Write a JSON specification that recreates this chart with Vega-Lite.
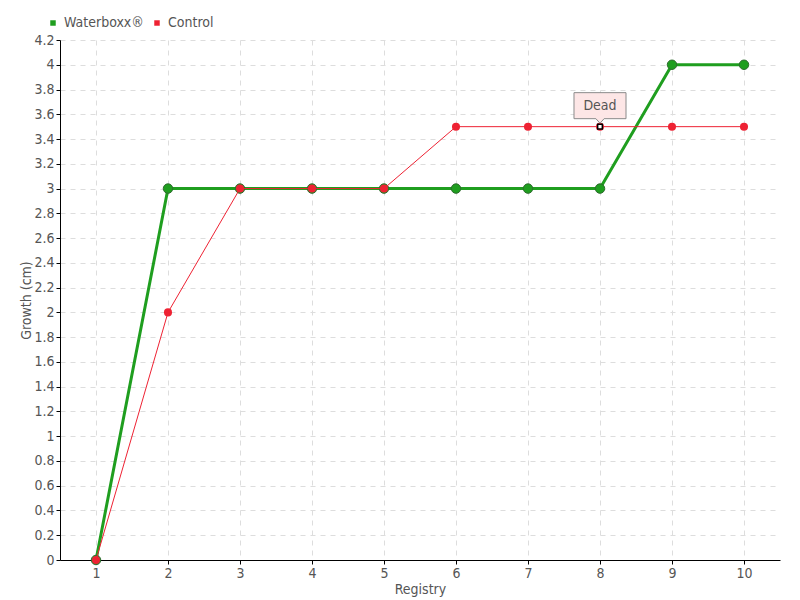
{
  "$schema": "https://vega.github.io/schema/vega-lite/v6.json",
  "width": 720,
  "height": 520,
  "autosize": "none",
  "padding": {"left": 60, "top": 40, "right": 20, "bottom": 40},
  "background": "white",
  "config": {
    "font": "DejaVu Sans Condensed, Liberation Sans Narrow, sans-serif",
    "view": {"stroke": null}
  },
  "data": {
    "values": [
      {"registry": 1, "growth": 0, "series": "Waterboxx®", "dead": false},
      {"registry": 2, "growth": 3, "series": "Waterboxx®", "dead": false},
      {"registry": 3, "growth": 3, "series": "Waterboxx®", "dead": false},
      {"registry": 4, "growth": 3, "series": "Waterboxx®", "dead": false},
      {"registry": 5, "growth": 3, "series": "Waterboxx®", "dead": false},
      {"registry": 6, "growth": 3, "series": "Waterboxx®", "dead": false},
      {"registry": 7, "growth": 3, "series": "Waterboxx®", "dead": false},
      {"registry": 8, "growth": 3, "series": "Waterboxx®", "dead": false},
      {"registry": 9, "growth": 4, "series": "Waterboxx®", "dead": false},
      {"registry": 10, "growth": 4, "series": "Waterboxx®", "dead": false},
      {"registry": 1, "growth": 0, "series": "Control", "dead": false},
      {"registry": 2, "growth": 2, "series": "Control", "dead": false},
      {"registry": 3, "growth": 3, "series": "Control", "dead": false},
      {"registry": 4, "growth": 3, "series": "Control", "dead": false},
      {"registry": 5, "growth": 3, "series": "Control", "dead": false},
      {"registry": 6, "growth": 3.5, "series": "Control", "dead": false},
      {"registry": 7, "growth": 3.5, "series": "Control", "dead": false},
      {"registry": 8, "growth": 3.5, "series": "Control", "dead": true, "note": "Dead"},
      {"registry": 9, "growth": 3.5, "series": "Control", "dead": false},
      {"registry": 10, "growth": 3.5, "series": "Control", "dead": false}
    ]
  },
  "encoding": {
    "x": {
      "field": "registry", "type": "quantitative",
      "scale": {"domain": [0.5, 10.5], "nice": false, "zero": false},
      "axis": {
        "title": "Registry", "values": [1,2,3,4,5,6,7,8,9,10], "format": "d",
        "grid": true, "gridDash": [5, 5], "gridColor": "#dddddd",
        "domainColor": "#000000", "tickColor": "#000000", "tickSize": 4,
        "labelColor": "#555555", "labelFontSize": 14, "labelPadding": 2,
        "titleColor": "#555555", "titleFontSize": 14, "titleFontWeight": "normal", "titlePadding": 2
      }
    },
    "y": {
      "field": "growth", "type": "quantitative",
      "scale": {"domain": [0, 4.2], "nice": false},
      "axis": {
        "title": "Growth (cm)",
        "values": [0,0.2,0.4,0.6,0.8,1,1.2,1.4,1.6,1.8,2,2.2,2.4,2.6,2.8,3,3.2,3.4,3.6,3.8,4,4.2],
        "format": ".1~f", "labelOverlap": false,
        "grid": true, "gridDash": [5, 5], "gridColor": "#dddddd",
        "domainColor": "#000000", "tickColor": "#000000", "tickSize": 4,
        "labelColor": "#555555", "labelFontSize": 14, "labelPadding": 2,
        "titleColor": "#555555", "titleFontSize": 14, "titleFontWeight": "normal",
        "titleX": -34, "titleY": 260, "titleAngle": -90, "titleBaseline": "middle", "titleAlign": "center"
      }
    },
    "color": {
      "field": "series", "type": "nominal",
      "scale": {"domain": ["Waterboxx®", "Control"], "range": ["#1f9e1f", "#ee2233"]},
      "legend": {
        "title": null, "orient": "none", "legendX": -14, "legendY": -24, "direction": "horizontal",
        "symbolType": "square", "symbolSize": 30, "symbolStrokeWidth": 0,
        "labelFontSize": 14, "labelColor": "#555555", "columnPadding": 6, "symbolOffset": 0
      }
    }
  },
  "layer": [
    {
      "transform": [{"filter": "datum.series === 'Waterboxx®'"}],
      "mark": {"type": "line", "strokeWidth": 3}
    },
    {
      "transform": [{"filter": "datum.series === 'Waterboxx®'"}],
      "mark": {"type": "point", "filled": true, "size": 90, "stroke": "#2f6b2f", "strokeWidth": 1, "opacity": 1}
    },
    {
      "transform": [{"filter": "datum.series === 'Control'"}],
      "mark": {"type": "line", "strokeWidth": 1}
    },
    {
      "transform": [{"filter": "datum.series === 'Control'"}],
      "mark": {"type": "point", "filled": true, "size": 65, "opacity": 1}
    },
    {
      "transform": [{"filter": "datum.dead"}],
      "mark": {"type": "point", "shape": "square", "filled": true, "size": 22, "fill": "white", "stroke": "#000000", "strokeWidth": 1.5, "opacity": 1}
    },
    {
      "transform": [{"filter": "datum.dead"}],
      "mark": {
        "type": "point", "filled": true, "size": 4624,
        "shape": "M-0.765,-1 L0.765,-1 L0.765,-0.235 L0.12,-0.235 L0,-0.1 L-0.12,-0.235 L-0.765,-0.235 Z",
        "fill": "#fde6e6", "stroke": "#8a8a8a", "strokeWidth": 1, "opacity": 1
      }
    },
    {
      "transform": [{"filter": "datum.dead"}],
      "mark": {"type": "text", "dy": -21, "fontSize": 14, "align": "center", "baseline": "middle"},
      "encoding": {"text": {"field": "note"}, "color": {"value": "#555555"}}
    }
  ]
}
